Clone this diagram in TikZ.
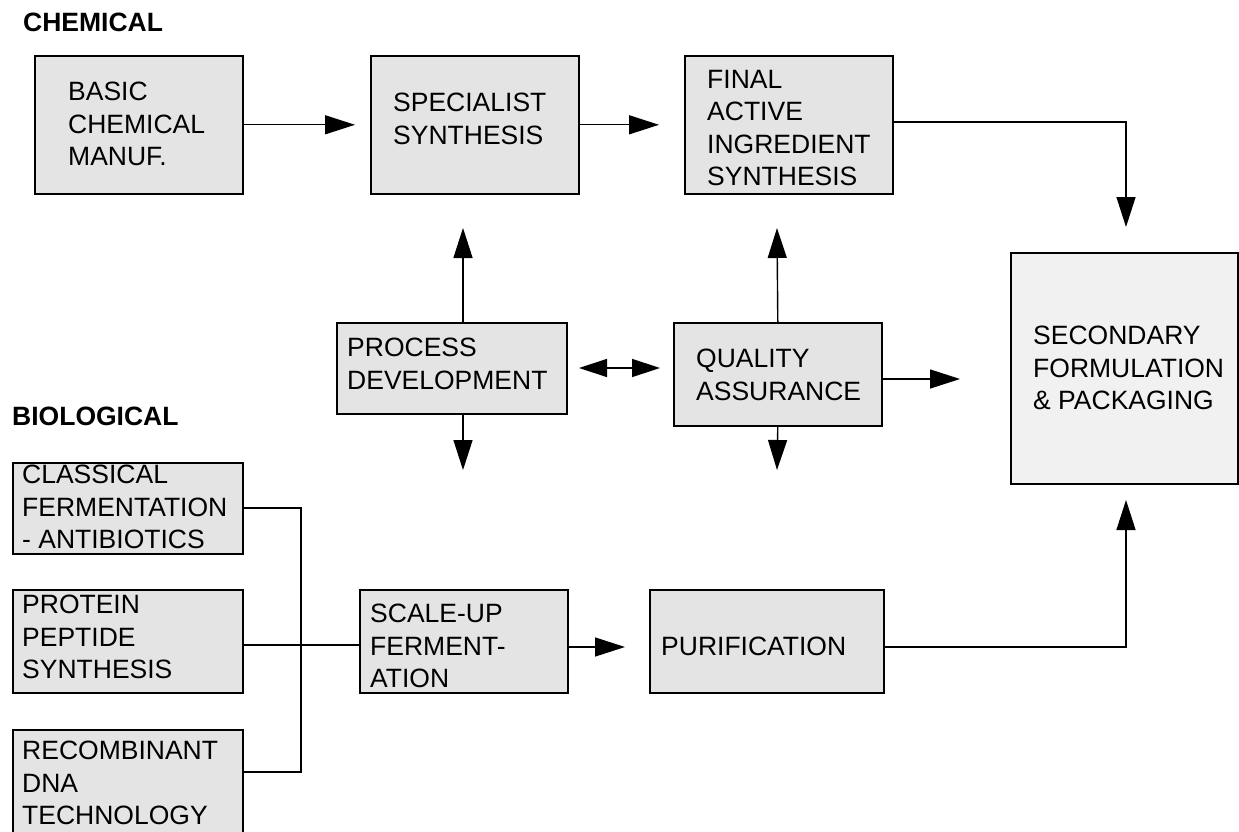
\documentclass[tikz,border=0pt]{standalone}
\usepackage{fontspec}
\setmainfont{Liberation Sans}
\usetikzlibrary{arrows.meta}
\tikzset{
  box/.style={draw=black, line width=1.6pt, fill=boxgray, rectangle, inner sep=0pt, anchor=north west},
  secbox/.style={box, fill=secgray},
  txt/.style={align=left, inner sep=0pt, anchor=north west, font=\fontsize{26.5}{32.5}\selectfont},
  head/.style={inner sep=0pt, anchor=north west, font=\fontsize{26.5}{32.5}\selectfont\bfseries},
  conn/.style={line width=1.4pt},
  arr/.style={conn, -{Triangle[length=30pt,width=19pt]}},
  darr/.style={conn, {Triangle[length=28pt,width=18pt]}-{Triangle[length=28pt,width=18pt]}},
}
\definecolor{boxgray}{HTML}{E4E4E4}
\definecolor{secgray}{HTML}{F1F1F1}
\begin{document}
\begin{tikzpicture}[x=1pt,y=-1pt]
\useasboundingbox (0,0) rectangle (1239,832);
\clip (0,0) rectangle (1239,832);
% section labels
\node[head] (chem) at (23,13) {CHEMICAL};
\node[head] (bio) at (12,407) {BIOLOGICAL};
% boxes
\node[box, minimum width=208, minimum height=138] (basic) at (34,55) {};
\node[box, minimum width=208, minimum height=138] (spec) at (370,55) {};
\node[box, minimum width=208, minimum height=138] (final) at (684,55) {};
\node[secbox, minimum width=227, minimum height=231] (sec) at (1010,252) {};
\node[box, minimum width=230, minimum height=91] (proc) at (336,322) {};
\node[box, minimum width=208, minimum height=103] (qa) at (673,322) {};
\node[box, minimum width=208, minimum height=103] (scale) at (359,589) {};
\node[box, minimum width=234, minimum height=103] (purif) at (649,589) {};
\node[box, minimum width=230, minimum height=91] (classic) at (12,462) {};
\node[box, minimum width=230, minimum height=103] (protein) at (12,589) {};
\node[box, minimum width=230, minimum height=140] (recomb) at (12,729) {};
% texts
\node[txt] (basict) at (68,82) {BASIC\\CHEMICAL\\MANUF.};
\node[txt] (spect) at (393,93) {SPECIALIST\\SYNTHESIS};
\node[txt] (finalt) at (707,70) {FINAL\\ACTIVE\\INGREDIENT\\SYNTHESIS};
\node[txt] (sect) at (1033,326) {SECONDARY\\FORMULATION\\\& PACKAGING};
\node[txt] (proct) at (347,338) {PROCESS\\DEVELOPMENT};
\node[txt] (qat) at (696,349) {QUALITY\\ASSURANCE};
\node[txt] (scalet) at (370,604) {SCALE-UP\\FERMENT-\\ATION};
\node[txt] (purift) at (661,637) {PURIFICATION};
\node[txt] (classict) at (22,465) {CLASSICAL\\FERMENTATION\\- ANTIBIOTICS};
\node[txt] (proteint) at (22,595) {PROTEIN\\PEPTIDE\\SYNTHESIS};
\node[txt] (recombt) at (22,741) {RECOMBINANT\\DNA\\TECHNOLOGY};
% coordinates
\coordinate (f1) at (1126,122);
\coordinate (f2) at (1126,227);
\coordinate (pu) at (463,228);
\coordinate (pd) at (463,470);
\coordinate (qu) at (777,228);
\coordinate (qd) at (777,470);
\coordinate (d1) at (579,368);
\coordinate (d2) at (660,368);
\coordinate (qr) at (960,379);
\coordinate (sr) at (625,647);
\coordinate (p1) at (1126,647);
\coordinate (p2) at (1126,500);
\coordinate (b1) at (301,508);
\coordinate (b2) at (301,772);
% connectors
\draw[arr, shorten >=15pt] (basic.east) -- (spec.west);
\draw[arr, shorten >=25pt] (spec.east) -- (final.west);
\draw[arr] (final.east |- f1) -- (f1) -- (f2);
\draw[arr] (proc.north -| pu) -- (pu);
\draw[arr] (proc.south -| pd) -- (pd);
\draw[arr] (qa.north) -- (qu);
\draw[arr] (qa.south) -- (qd);
\draw[darr] (d1) -- (d2);
\draw[arr] (qa.east |- qr) -- (qr);
\draw[arr] (scale.east |- sr) -- (sr);
\draw[arr] (purif.east |- p1) -- (p1) -- (p2);
\draw[conn] (classic.east |- b1) -- (b1) -- (b2) -- (recomb.east |- b2);
\draw[conn] (protein.east |- 0,645) -- (scale.west |- 0,645);
\end{tikzpicture}
\end{document}
